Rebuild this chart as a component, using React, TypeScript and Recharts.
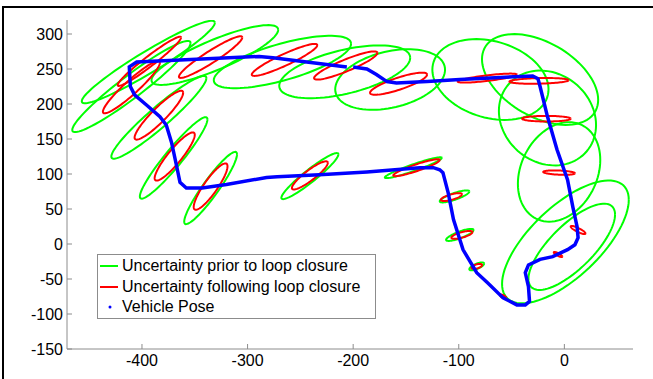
import { ScatterChart, Scatter, XAxis, YAxis } from 'recharts';

// vehicle pose track (x, y)
const poseX = [
  -200, -187, -178, -168, -159, -130, -99, -61, -30, -25, -23, -16, -7, 3, 8, 12, 13, 10, 3,
  -11, -23, -34, -37, -34, -33, -37, -45, -58, -73, -83, -96, -105, -110, -115, -118, -124,
  -137, -187, -232, -272, -282, -320, -343, -358, -364, -367, -372, -377, -383, -396, -407,
  -411, -412, -405, -289, -276, -244, -206,
];
const poseY = [
  253, 250, 242, 232, 230, 232, 235, 238, 240, 236, 225, 182, 135, 92, 53, 25, 9, -1, -8,
  -18, -22, -30, -41, -61, -82, -87, -87, -77, -55, -41, -8, 35, 73, 102, 106, 109,
  109, 103, 99, 96, 95, 85, 80, 80, 88, 110, 145, 170, 182, 199, 213,
  225, 253, 260, 268, 266, 260, 253,
];

// ellipses: [centerX, centerY, rightmostDx, rightmostDy, verticalHalfChord]
const priorEllipses = [
  [-394, 260, 63, 56, 18],
  [-410, 225, 56, 62, 20],
  [-384, 181, 45, 56, 19],
  [-370, 123, 32, 55, 19],
  [-335, 80, 25, 48, 19],
  [-331, 270, 60, 36, 23],
  [-267, 260, 65, 26, 27],
  [-208, 246, 62, 20, 32],
  [-165, 235, 52, 14, 41],
  [-70, 235, 55, -14, 56],
  [-23, 235, 55, -29, 58],
  [-16, 180, 46, -10, 67],
  [-5, 103, 39, 17, 69],
  [1, 3, 60, 60, 64],
  [7, -4, 41, 46, 41],
  [-241, 97, 27, 31, 11],
  [-143, 109, 27, 14, 5],
  [-104, 68, 14, 7, 5],
  [-99, 13, 13, 7, 5],
  [-83, -32, 7, 4, 4],
];
const postEllipses = [
  [-393, 261, 30, 34, 9],
  [-410, 224, 27, 35, 13],
  [-384, 184, 23, 32, 14],
  [-369, 125, 19, 31, 15],
  [-335, 82, 16, 29, 16],
  [-335, 267, 30, 28, 10],
  [-265, 263, 31, 21, 9],
  [-207, 255, 30, 18, 9],
  [-157, 229, 27, 13, 9],
  [-73, 237, 28, 5, 4],
  [-24, 233, 28, 1, 4],
  [-17, 179, 23, 0, 4],
  [-5, 102, 15, -1, 3],
  [13, 20, 7, -5, 3],
  [-6, -15, 4, -3, 2],
  [-58, -75, 3, -2, 2],
  [-83, -32, 5, 2, 3],
  [-97, 13, 10, 4, 4],
  [-107, 67, 10, 4, 4],
  [-140, 109, 22, 11, 5],
  [-241, 98, 17, 18, 9],
];

const xTicks = [-400, -300, -200, -100, 0];
const yTicks = [-150, -100, -50, 0, 50, 100, 150, 200, 250, 300];

const GREEN = '#00ff00';
const RED = '#ff0000';
const BLUE = '#0000ff';
const FONT = '"Liberation Sans", Arial, sans-serif';

const outline = ([cx, cy, rx, ry, h]: number[]) => {
  const pts = [];
  for (let i = 0; i <= 90; i++) {
    const t = (i / 90) * Math.PI * 2;
    pts.push({ x: cx + rx * Math.cos(t), y: cy + ry * Math.cos(t) + h * Math.sin(t) });
  }
  return pts;
};

const pose = poseX.map((x, i) => ({ x, y: poseY[i] }));
const noDot = () => <g />;

const legendItems = [
  { label: 'Uncertainty prior to loop closure', color: GREEN, dot: false },
  { label: 'Uncertainty following loop closure', color: RED, dot: false },
  { label: 'Vehicle Pose', color: BLUE, dot: true },
];

const LegendBox = () => (
  <div
    style={{
      position: 'absolute', left: 97, top: 254, width: 277, height: 62,
      border: '1px solid #8c8c8c', background: '#fff',
      fontFamily: FONT, fontSize: 16, color: '#000', lineHeight: '20.5px', paddingTop: 1,
    }}
  >
    {legendItems.map((e) => (
      <div key={e.label} style={{ display: 'flex', alignItems: 'center', height: 20.5 }}>
        <svg width={24} height={10} style={{ flex: 'none' }}>
          {e.dot
            ? <circle cx={12} cy={5} r={1.5} fill={e.color} />
            : <line x1={2} x2={20} y1={5} y2={5} stroke={e.color} strokeWidth={2} />}
        </svg>
        <span style={{ whiteSpace: 'nowrap' }}>{e.label}</span>
      </div>
    ))}
  </div>
);

export default function App() {
  return (
    <div style={{ position: 'absolute', left: 0, top: 0, width: 653, height: 379, background: '#fff' }}>
      <div
        style={{
          position: 'absolute', left: 2, top: 6, right: 0, bottom: 0,
          borderTop: '2px solid #000', borderLeft: '2px solid #000',
        }}
      />
      <div style={{ position: 'absolute', left: 0, top: 0 }}>
        <ScatterChart width={653} height={379} margin={{ top: 20, right: 20, bottom: 0, left: 0 }}>
          <XAxis
            type="number" dataKey="x" domain={[-471, 65]} ticks={xTicks} allowDataOverflow
            height={30} stroke="#8c8c8c" tickSize={-5} tickMargin={11}
            tick={{ fill: '#000', fontSize: 16, fontFamily: FONT }}
          />
          <YAxis
            type="number" dataKey="y" domain={[-150, 320]} ticks={yTicks} allowDataOverflow
            width={67} stroke="#8c8c8c" tickSize={-5} tickMargin={9}
            tick={{ fill: '#000', fontSize: 16, fontFamily: FONT }}
          />
          {priorEllipses.map((e, i) => (
            <Scatter key={`g${i}`} data={outline(e)} line={{ stroke: GREEN, strokeWidth: 2 }}
              lineType="joint" shape={noDot} isAnimationActive={false} legendType="none" />
          ))}
          {postEllipses.map((e, i) => (
            <Scatter key={`r${i}`} data={outline(e)} line={{ stroke: RED, strokeWidth: 2 }}
              lineType="joint" shape={noDot} isAnimationActive={false} legendType="none" />
          ))}
          <Scatter data={pose} line={{ stroke: BLUE, strokeWidth: 3.5 }}
            lineType="joint" shape={noDot} isAnimationActive={false} legendType="none" />
        </ScatterChart>
      </div>
      <LegendBox />
    </div>
  );
}
